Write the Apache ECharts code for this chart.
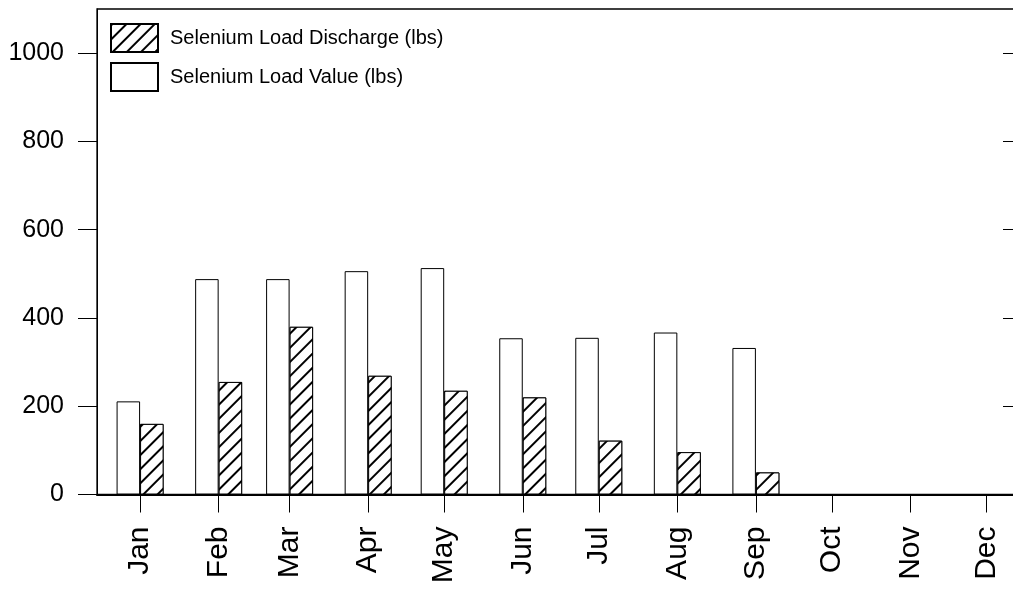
<!DOCTYPE html>
<html>
<head>
<meta charset="utf-8">
<script src="https://cdn.jsdelivr.net/npm/echarts@6/dist/echarts.min.js"></script>
<style>
html,body{margin:0;padding:0;background:#fff;}
#chart{width:1013px;height:589px;}
</style>
</head>
<body>
<div id="chart"></div>
<script>
// ---- data ----
var months = ['Jan','Feb','Mar','Apr','May','Jun','Jul','Aug','Sep','Oct','Nov','Dec'];
var monthDates = ['2023-01-01','2023-02-01','2023-03-01','2023-04-01','2023-05-01','2023-06-01',
                  '2023-07-01','2023-08-01','2023-09-01','2023-10-01','2023-11-01','2023-12-01'];
var loadValue     = [211, 488, 488, 506, 513, 354, 355, 367, 332, null, null, null];
var loadDischarge = [160, 255, 380, 269, 235, 220, 122, 96, 50, null, null, null];
var yTicks = [0, 200, 400, 600, 800, 1000];
var seriesNames = ['Selenium Load Value (lbs)', 'Selenium Load Discharge (lbs)'];
var legendOrder = ['Selenium Load Discharge (lbs)', 'Selenium Load Value (lbs)'];

// day-of-year position of each month on the calendar axis
var yearStart = Date.parse('2023-01-01T00:00:00Z');
var monthPos = monthDates.map(function (d) {
  return Math.round((Date.parse(d + 'T00:00:00Z') - yearStart) / 86400000);
});
function pairs(vals) {
  return vals.map(function (v, i) { return [monthPos[i], v]; }).filter(function (p) { return p[1] != null; });
}

var FONT = 'Liberation Sans, Arial, Helvetica, sans-serif';
var chart = echarts.init(document.getElementById('chart'), null, {renderer: 'canvas'});
var option = {
  backgroundColor: '#fff',
  animation: false,
  grid: {left: 97, top: 9, width: 925, height: 485.5, outerBoundsMode: 'none', containLabel: false,
         show: true, borderColor: '#000', borderWidth: 1.3, backgroundColor: 'transparent'},
  legend: {
    data: legendOrder,
    orient: 'vertical',
    left: 110, top: 23, padding: 0,
    itemWidth: 47, itemHeight: 28, itemGap: 9,
    icon: 'rect',
    textStyle: {fontFamily: FONT, fontSize: 20, color: '#000', padding: [0, 0, 0, 7]},
    selectedMode: false
  },
  xAxis: {
    type: 'value',
    min: -17, max: 348,
    splitLine: {show: false},
    axisLine: {show: true, onZero: false, lineStyle: {color: '#000', width: 2}},
    axisTick: {show: true, inside: false, length: 18, customValues: monthPos, lineStyle: {color: '#000', width: 1}},
    axisLabel: {
      customValues: monthPos,
      rotate: 90, margin: 32,
      fontFamily: FONT, fontSize: 30, color: '#000',
      formatter: function (v) { var i = monthPos.indexOf(Math.round(v)); return i >= 0 ? months[i] : ''; }
    }
  },
  yAxis: [{
    type: 'value', min: 0, max: 1100, interval: 100,
    splitLine: {show: false},
    axisLine: {show: true, onZero: false, lineStyle: {color: '#000', width: 1}},
    axisTick: {show: true, inside: false, length: 19, customValues: yTicks, lineStyle: {color: '#000', width: 1}},
    axisLabel: {customValues: yTicks, margin: 33, fontFamily: FONT, fontSize: 25, color: '#000',
                formatter: function (v) { return String(v); }}
  }, {
    type: 'value', min: 0, max: 1100, interval: 100, position: 'right',
    splitLine: {show: false},
    axisLine: {show: true, onZero: false, lineStyle: {color: '#000', width: 1}},
    axisTick: {show: true, inside: true, length: 19, customValues: yTicks, lineStyle: {color: '#000', width: 1}},
    axisLabel: {show: false}
  }],
  series: [{
    name: seriesNames[0],
    type: 'bar',
    data: pairs(loadValue),
    barWidth: 23.5,
    barGap: '0%',
    itemStyle: {color: '#fff', borderColor: '#000', borderWidth: 1}
  }, {
    name: seriesNames[1],
    type: 'bar',
    data: pairs(loadDischarge),
    barWidth: 23.5,
    barGap: '0%',
    itemStyle: {
      color: '#fff', borderColor: '#000', borderWidth: 1,
      decal: {symbol: 'rect', symbolSize: 1, dashArrayX: [1, 0], dashArrayY: [1.2, 7.3], rotation: -Math.PI / 4, color: '#000', backgroundColor: '#fff'}
    }
  }]
};
chart.setOption(option);
</script>
</body>
</html>
